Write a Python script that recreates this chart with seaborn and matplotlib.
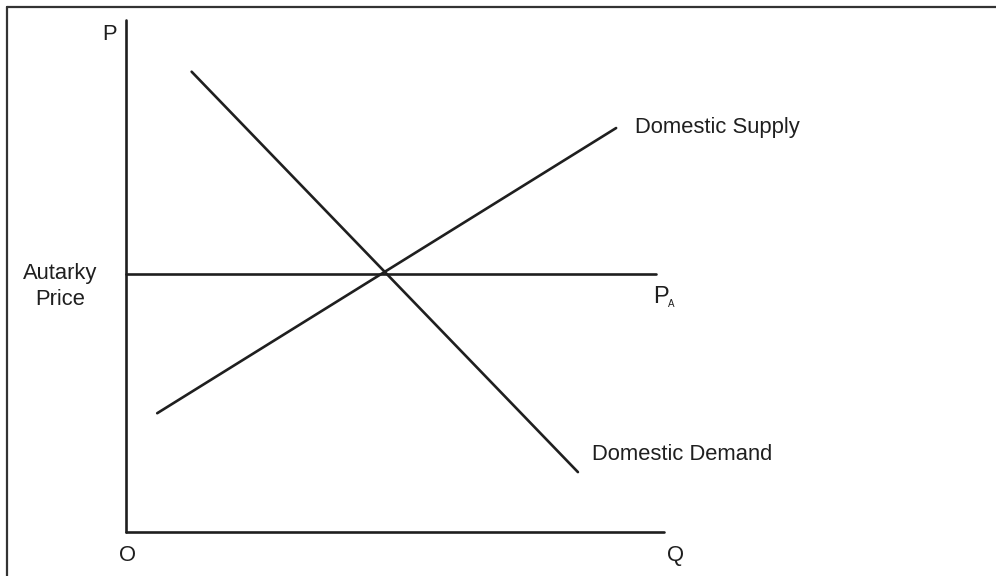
import matplotlib
matplotlib.use("Agg")
import matplotlib.pyplot as plt
import seaborn as sns
import pandas as pd
from matplotlib.lines import Line2D

# -----------------------------------------------------
# curve end points (quantity, price), axis runs 0..100
# -----------------------------------------------------
curve_names = ["Domestic Demand", "Domestic Supply", "Autarky price line"]
curve_q = [[12.2, 84.0], [5.8, 91.1], [0.0, 98.5]]
curve_p = [[89.9, 11.7], [23.2, 78.9], [50.4, 50.4]]

axis_q = [[0, 0], [0, 100]]
axis_p = [[100, 0], [0, 0]]

INK = "#1f1f1f"

sns.set_theme(style="white")
plt.rcParams["font.family"] = ["Liberation Sans", "DejaVu Sans"]

rows = []
for name, qs, ps in zip(curve_names, curve_q, curve_p):
    for q, p in zip(qs, ps):
        rows.append([name, q, p])
for i, (qs, ps) in enumerate(zip(axis_q, axis_p)):
    for q, p in zip(qs, ps):
        rows.append([f"axis{i}", q, p])
df = pd.DataFrame(rows, columns=["curve", "q", "p"])

fig = plt.figure(figsize=(9.96, 5.76), dpi=100)
ax = fig.add_axes([0, 0, 1, 1])

sns.lineplot(data=df, x="q", y="p", hue="curve", units="curve", estimator=None,
             sort=False, palette=[INK] * df["curve"].nunique(), linewidth=1.9,
             legend=False, ax=ax)

ax.set_xlim(-126 / 5.38, (996 - 126) / 5.38)
ax.set_ylim(-44 / 5.12, (576 - 44) / 5.12)
ax.set_axis_off()

fs = 15.8
ax.text(-3.0, 97.1, "P", fontsize=fs, color=INK, ha="center", va="center")
ax.text(0.2, -4.5, "O", fontsize=fs, color=INK, ha="center", va="center")
ax.text(102.2, -4.5, "Q", fontsize=fs, color=INK, ha="center", va="center")
ax.text(-12.3, 47.9, "Autarky\nPrice", fontsize=fs, color=INK, ha="center",
        va="center", multialignment="center", linespacing=1.3)
ax.text(94.6, 77.9, "Domestic Supply", fontsize=fs, color=INK, ha="left", va="baseline")
ax.text(86.6, 14.1, "Domestic Demand", fontsize=fs, color=INK, ha="left", va="baseline")
ax.text(98.0, 44.7, "P", fontsize=17, color=INK, ha="left", va="baseline")
ax.text(100.7, 43.9, "A", fontsize=7, color=INK, ha="left", va="baseline")

# cropped outer frame (top and left edges only)
fig.add_artist(Line2D([7 / 996, 1], [1 - 7 / 576] * 2, transform=fig.transFigure,
                      color="#333333", linewidth=1.6))
fig.add_artist(Line2D([7 / 996] * 2, [0, 1 - 7 / 576], transform=fig.transFigure,
                      color="#333333", linewidth=1.6))

fig.savefig("out.png", dpi=100)
